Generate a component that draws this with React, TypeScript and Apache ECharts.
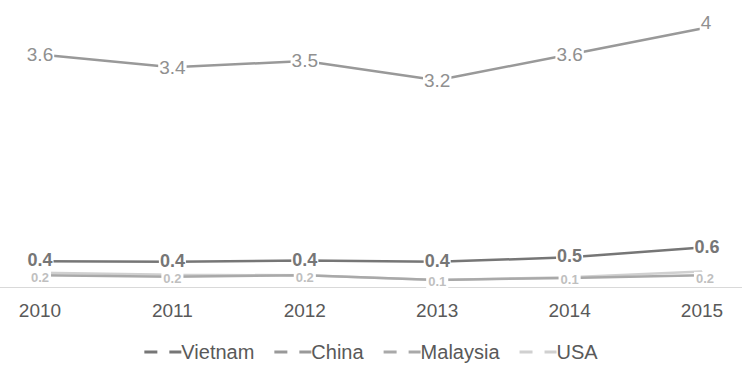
import React, { useEffect, useRef } from "react";
import * as echarts from "echarts";

const years = ["2010", "2011", "2012", "2013", "2014", "2015"];
const vietnam = [0.4, 0.39, 0.41, 0.39, 0.46, 0.61];
const china = [3.6, 3.4, 3.5, 3.2, 3.6, 4];
const malaysia = [0.18, 0.16, 0.18, 0.11, 0.14, 0.18];
const usa = [0.22, 0.19, 0.18, 0.11, 0.15, 0.24];

const FONT = "'Liberation Sans', Arial, sans-serif";

const fmt = (p: any) => {
  const v = Math.round(p.value * 10) / 10;
  return String(v);
};

const withLastOffset = (arr: number[], offset: number[]) =>
  arr.map((v, i) =>
    i === arr.length - 1 ? { value: v, label: { offset } } : v
  );

export default function App() {
  const ref = useRef<HTMLDivElement>(null);
  useEffect(() => {
    if (!ref.current) return;
    const chart = echarts.init(ref.current, undefined, { renderer: "svg" });
    const dashIcon = "path://M0,0h13v3h-13z M25,0h12v3h-12z";
    chart.setOption({
      animation: false,
      backgroundColor: "#ffffff",
      grid: { left: 40, right: 40, top: 28.6, bottom: 79, containLabel: false },
      xAxis: {
        type: "category",
        data: years,
        boundaryGap: false,
        axisLine: { show: false },
        axisTick: { show: false },
        axisLabel: {
          color: "#595959",
          fontSize: 19,
          fontFamily: FONT,
          margin: 14,
        },
      },
      yAxis: {
        type: "value",
        min: 0,
        max: 4,
        show: false,
        splitLine: { show: false },
      },
      graphic: [
        {
          type: "line",
          shape: { x1: 0, y1: 287.5, x2: 742, y2: 287.5 },
          style: { stroke: "#d9d9d9", lineWidth: 1 },
          z: 0,
        },
      ],
      legend: {
        data: ["Vietnam", "China", "Malaysia", "USA"],
        left: "center",
        top: 337,
        itemWidth: 37,
        itemHeight: 3,
        itemGap: 20,
        icon: dashIcon,
        textStyle: { color: "#595959", fontSize: 20, fontFamily: FONT, padding: [0, 0, 0, -5] },
      },
      series: [
        {
          name: "USA",
          type: "line",
          data: usa,
          symbol: "circle",
          symbolSize: 1,
          lineStyle: { color: "#d0d0d0", width: 2.5 },
          itemStyle: { color: "#d0d0d0" },
          label: { show: false },
          z: 2,
        },
        {
          name: "Malaysia",
          type: "line",
          data: withLastOffset(malaysia, [3, 3]),
          symbol: "circle",
          symbolSize: 1,
          lineStyle: { color: "#a9a9a9", width: 2.5 },
          itemStyle: { color: "#a9a9a9" },
          label: {
            show: true,
            position: "inside",
            offset: [0, 2],
            formatter: fmt,
            color: "#bfbfbf",
            fontSize: 13,
            lineHeight: 13,
            fontWeight: "bold",
            fontFamily: FONT,
            backgroundColor: "#ffffff",
            padding: [0, 2],
          },
          z: 3,
        },
        {
          name: "China",
          type: "line",
          data: withLastOffset(china, [4, -6]),
          symbol: "circle",
          symbolSize: 1,
          lineStyle: { color: "#999999", width: 2.5 },
          itemStyle: { color: "#999999" },
          label: {
            show: true,
            position: "inside",
            formatter: fmt,
            color: "#909090",
            fontSize: 19,
            fontFamily: FONT,
            backgroundColor: "#ffffff",
            padding: [0, 1],
          },
          z: 4,
        },
        {
          name: "Vietnam",
          type: "line",
          data: withLastOffset(vietnam, [5, -1]),
          symbol: "circle",
          symbolSize: 1,
          lineStyle: { color: "#767676", width: 2.5 },
          itemStyle: { color: "#767676" },
          label: {
            show: true,
            position: "inside",
            offset: [0, -1],
            formatter: fmt,
            color: "#767676",
            fontSize: 18,
            lineHeight: 16,
            fontWeight: "bold",
            fontFamily: FONT,
            backgroundColor: "#ffffff",
            padding: [0, 1],
          },
          z: 5,
        },
      ],
    });
    return () => chart.dispose();
  }, []);
  return (
    <div
      ref={ref}
      style={{ position: "fixed", left: 0, top: 0, width: 742, height: 366 }}
    />
  );
}
